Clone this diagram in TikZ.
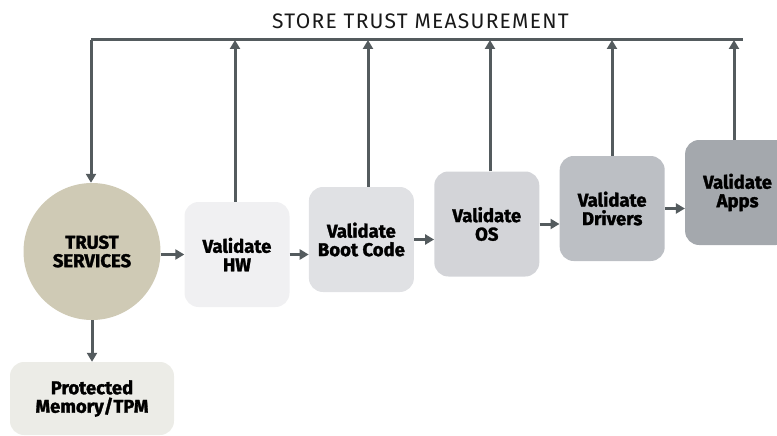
\documentclass[tikz,border=0pt]{standalone}
\usepackage{fontspec}
\setmainfont{Fira Sans}[BoldFeatures={FakeBold=1.6}]
\usetikzlibrary{arrows.meta,positioning}

\definecolor{linegray}{RGB}{84,91,94}
\definecolor{trustbeige}{RGB}{207,202,181}
\definecolor{hwgray}{RGB}{240,240,242}
\definecolor{bootgray}{RGB}{224,225,228}
\definecolor{osgray}{RGB}{211,212,216}
\definecolor{drvgray}{RGB}{188,191,196}
\definecolor{appgray}{RGB}{164,168,173}
\definecolor{memgray}{RGB}{236,236,231}

\begin{document}
\begin{tikzpicture}[
        x=1pt, y=-1pt, % pixel grid, y grows downwards
        line/.style = {draw=linegray, line width=3pt},
        arr/.style = {line, -{Triangle[length=9pt,width=10pt]}},
        boxtext/.style = {align=center, text=black, font=\bfseries\fontsize{18.5}{18.5}\selectfont},
        stage/.style = {boxtext, rounded corners=14pt, inner sep=0pt,
                minimum width=105pt, minimum height=105pt}, % Validate boxes
        trust/.style = {boxtext, circle, inner sep=0pt, minimum size=137pt},
        heading/.style = {font=\addfontfeatures{LetterSpace=6}\fontsize{21}{23}\selectfont, text=black!90},
    ]
    \useasboundingbox (0,0) rectangle (777,436);
    \clip (0,0) rectangle (777,436);

    \node[heading] (title) at (420.5,21) {STORE TRUST MEASUREMENT};

    % chain of checks
    \node[trust, fill=trustbeige] (ts) at (92,251.5) {TRUST\\SERVICES};
    \node[stage, fill=hwgray] (hw) at (237,254.5) {Validate\\HW};
    \node[stage, fill=bootgray, right=19pt of hw, yshift=15pt] (boot) {Validate\\Boot Code};
    \node[stage, fill=osgray, right=20pt of boot, yshift=15.5pt] (os) {Validate\\OS};
    \node[stage, fill=drvgray, right=20pt of os, yshift=15.5pt] (drv) {Validate\\Drivers};
    \node[stage, fill=appgray, right=20pt of drv, yshift=16pt] (apps) {Validate\\Apps};
    \node[stage, fill=memgray, minimum width=164pt, minimum height=73pt] (mem) at (92,398.5) {Protected\\Memory/TPM};

    \draw[arr] (ts.east |- hw.west) -- (hw.west);
    \draw[arr] (hw.east) -- (hw.east -| boot.west);
    \draw[arr] (boot.east) -- (boot.east -| os.west);
    \draw[arr] (os.east) -- (os.east -| drv.west);
    \draw[arr] (drv.east) -- (drv.east -| apps.west);
    \draw[arr] (ts.south) -- (mem.north);

    % measurement bus
    \coordinate (corner) at (91,40);
    \coordinate (busend) at (743,40);
    \draw[line] (corner) -- (busend);
    \draw[arr] (corner) -- (corner |- ts.north);
    \foreach \n/\x in {hw/235, boot/368, os/490, drv/612, apps/734} {
        \coordinate (up-\n) at (\x,40);
        \draw[arr] (up-\n |- \n.north) -- (up-\n);
    }
\end{tikzpicture}
\end{document}
